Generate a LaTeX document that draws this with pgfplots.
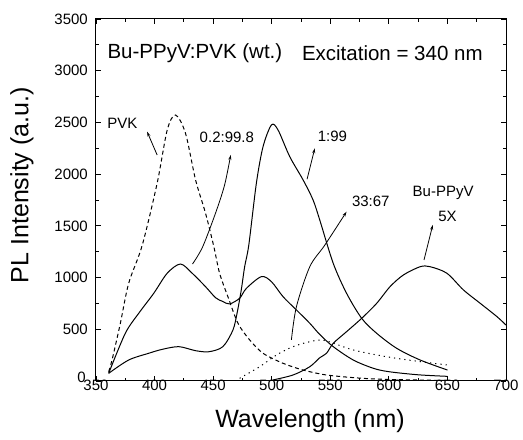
\documentclass[border=0pt]{standalone}
\usepackage{pgfplots}
\pgfplotsset{compat=1.18}
\usepackage{fontspec}
\setmainfont{Liberation Sans}
\usetikzlibrary{arrows.meta}
\begin{document}
\begin{tikzpicture}
\begin{axis}[name=ax, scale only axis, width=410pt, height=362pt,
  xmin=350, xmax=700, ymin=0, ymax=3500,
  xtick={350,400,...,700}, ytick={500,1000,...,3500},
  extra y ticks={0},
  extra y tick style={yticklabel style={yshift=4pt, xshift=-2pt}},
  minor x tick num=1, minor y tick num=1,
  tick align=inside, major tick length=5pt, minor tick length=3pt,
  tick style={line width=0.9pt, black},
  axis line style={line width=1pt},
  xticklabel style={font=\fontsize{15}{17}\selectfont, yshift=3pt, inner ysep=2pt},
  yticklabel style={font=\fontsize{15}{17}\selectfont, xshift=-6pt, inner xsep=2pt},
  /pgf/number format/assume math mode=true,
  /pgf/number format/1000 sep={},
  xlabel={Wavelength (nm)}, ylabel={PL Intensity (a.u.)},
  label style={font=\fontsize{25}{30}\selectfont},
  xlabel style={at={(axis description cs:0.522,-0.1105)}, anchor=center},
  ylabel style={at={(axis description cs:-0.181,0.541)}, anchor=center},
  every axis plot/.append style={line width=1pt, black},
]
% PVK (dashed)
\addplot[smooth, tension=0.5, dash pattern=on 4pt off 3pt] coordinates {
(360.8,90) (363.7,203) (370.8,558) (377.9,945) (389.4,1310) (402.2,1912)
(410.8,2427) (417.9,2572) (426.4,2395) (435,1944) (443.5,1622) (450.6,1299)
(455.5,1042) (462.6,815) (471.2,558) (481.2,397) (492.6,268) (509.7,171)
(526.8,106) (546.8,58) (575,28) (600,15) (650,5)};
% 0.2:99.8
\addplot[smooth, tension=0.5] coordinates {
(360.8,74) (375,461) (386.5,655) (399.3,848) (410.8,1042) (422.1,1131)
(432.1,1042) (443.5,912) (452.1,805) (458,770) (464,745) (472.6,800) (478.4,896)
(491.2,1009) (499.8,960) (509.7,815) (521.1,687) (532.5,558) (541,450)
(552.5,332) (569.6,203) (586.7,123) (600,90) (625,60) (650,45)};
% 1:99
\addplot[smooth, tension=0.5] coordinates {
(360.8,74) (377.9,203) (395,268) (406.5,306) (420.7,332) (435,293)
(446.4,283) (458.3,332) (466.9,493) (470.5,660) (474,880) (476.9,1105)
(480.5,1320) (486.9,1912) (492.6,2266) (499.8,2476) (505.4,2427)
(515.4,2169) (526.8,1944) (535.3,1750) (541,1557) (552.5,1138)
(563.9,848) (576.8,606) (589.6,461) (606.7,316) (626.7,203) (650,106)};
% 33:67 dotted
\addplot[smooth, tension=0.5, dash pattern=on 1.2pt off 4pt] coordinates {
(472.6,26) (489.7,138) (504,251) (518.2,332) (532.5,380) (545,392)
(569.6,300) (597.9,235) (626.7,187) (650,155)};
% Bu-PPyV 5X
\addplot[smooth, tension=0.5] coordinates {
(501,10) (518.2,58) (532.5,138) (541,225) (546.8,268) (552.5,364)
(563.9,477) (576.8,606) (589.6,751) (601,912) (612.4,1025) (626.7,1105)
(635.2,1105) (649.5,1042) (663.7,880) (678,751) (692.3,622) (700,541)};

% title
\node[anchor=west, font=\fontsize{20.5}{24}\selectfont, inner sep=0pt] at (axis cs:359.7,3172) {Bu-PPyV:PVK (wt.)};
\node[anchor=west, font=\fontsize{20.5}{24}\selectfont, inner sep=0pt] at (axis cs:525.7,3172) {Excitation = 340 nm};

% labels
\node[font=\fontsize{15}{18}\selectfont, inner sep=0pt] at (axis cs:372.6,2495) {PVK};
\node[font=\fontsize{15}{18}\selectfont, inner sep=0pt] at (axis cs:461.7,2360) {0.2:99.8};
\node[font=\fontsize{15}{18}\selectfont, inner sep=0pt] at (axis cs:551.8,2363) {1:99};
\node[font=\fontsize{15}{18}\selectfont, inner sep=0pt] at (axis cs:584.6,1734) {33:67};
\node[font=\fontsize{15}{18}\selectfont, inner sep=0pt] at (axis cs:646.3,1815) {Bu-PPyV};
\node[font=\fontsize{15}{18}\selectfont, inner sep=0pt] at (axis cs:650,1595) {5X};

% leader arrows
\draw[line width=0.8pt, -{Stealth[length=5pt,width=3pt]}] (axis cs:402.2,2185) -- (axis cs:393.6,2411);
\draw[line width=0.8pt, -{Stealth[length=5pt,width=3pt]}] plot[smooth] coordinates {(axis cs:432.4,1131) (axis cs:441,1296) (axis cs:452.1,1625) (axis cs:459.8,1896) (axis cs:465,2186)};
\draw[line width=0.8pt, -{Stealth[length=5pt,width=3pt]}] (axis cs:530.2,1951) -- (axis cs:536.8,2250);
\draw[line width=0.8pt, -{Stealth[length=5pt,width=3pt]}] plot[smooth] coordinates {(axis cs:516.8,397) (axis cs:521.1,719) (axis cs:532.5,1105) (axis cs:545.4,1315) (axis cs:563.9,1637)};
\draw[line width=0.8pt, -{Stealth[length=5pt,width=3pt]}] (axis cs:630,1170) -- (axis cs:637.5,1509);
\end{axis}
\pgfresetboundingbox
\path[use as bounding box] ([xshift=-96pt,yshift=-59pt]ax.south west) rectangle ([xshift=17pt,yshift=19pt]ax.north east);
\end{tikzpicture}
\end{document}
